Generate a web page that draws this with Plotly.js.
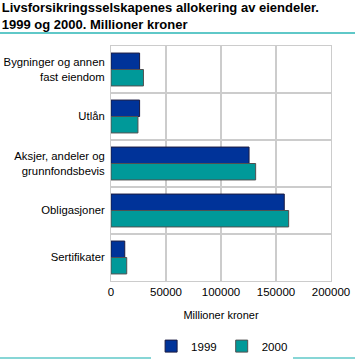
<!DOCTYPE html>
<html>
<head>
<meta charset="utf-8">
<script src="https://cdn.plot.ly/plotly-3.0.1.min.js"></script>
<style>html,body{margin:0;padding:0;background:#fff;}#chart{width:355px;height:361px;}</style>
</head>
<body>
<div id="chart"></div>
<script>
const categories = ["Bygninger og annen<br>fast eiendom", "Utlån", "Aksjer, andeler og<br>grunnfondsbevis", "Obligasjoner", "Sertifikater"];
const values1999 = [26000, 26000, 125500, 157500, 12500];
const values2000 = [29500, 24500, 131500, 161500, 14300];
const seriesNames = ["1999", "2000"];
const xTicks = [0, 50000, 100000, 150000, 200000];

const font = "Liberation Sans, Arial, sans-serif";
const traces = [
  {type: "bar", orientation: "h", name: seriesNames[0], y: categories, x: values1999,
   marker: {color: "#003399", line: {color: "#1a1a40", width: 1}}},
  {type: "bar", orientation: "h", name: seriesNames[1], y: categories, x: values2000,
   marker: {color: "#009999", line: {color: "#505050", width: 1}}}
];
const layout = {
  width: 355, height: 361,
  margin: {l: 111, r: 24, t: 46, b: 80, autoexpand: false},
  paper_bgcolor: "#fff", plot_bgcolor: "#fff",
  barmode: "group", bargap: 0.3, bargroupgap: 0,
  font: {family: font, size: 11, color: "#000"},
  title: {text: "<b>Livsforsikringsselskapenes allokering av eiendeler.<br>1999 og 2000. Millioner kroner</b>",
          x: 0.005, xanchor: "left", y: 0.966, yanchor: "middle", font: {size: 13, family: font}, automargin: false},
  xaxis: {range: [0, 200000], tickvals: xTicks, tickformat: "d", showgrid: true, gridcolor: "#cccccc", gridwidth: 1.5,
          showline: true, linecolor: "#cccccc", mirror: true, zeroline: false, ticks: "", ticklen: 0,
          title: {text: "Millioner kroner", standoff: 14, font: {size: 11}}, tickfont: {size: 11.5}, fixedrange: true, automargin: false},
  yaxis: {autorange: "reversed", tickson: "boundaries", showgrid: true, gridcolor: "#cccccc", gridwidth: 1.5,
          showline: true, linecolor: "#cccccc", mirror: true, ticks: "", ticklabelstandoff: 3, tickfont: {size: 11.3}, automargin: false},
  legend: {orientation: "h", x: 0.505, xanchor: "center", y: -0.277, yanchor: "middle", font: {size: 11.5}, itemwidth: 30},
  shapes: [
    {type: "line", xref: "paper", yref: "paper", x0: -0.51, x1: 1.11, y0: 1.055, y1: 1.055, line: {color: "#5fc8c8", width: 2}},
    {type: "line", xref: "paper", yref: "paper", x0: -0.51, x1: 1.11, y0: -0.328, y1: -0.328, line: {color: "#5fc8c8", width: 1.5}}
  ],
  showlegend: true
};
Plotly.newPlot("chart", traces, layout, {displayModeBar: false, staticPlot: true});
</script>
</body>
</html>
